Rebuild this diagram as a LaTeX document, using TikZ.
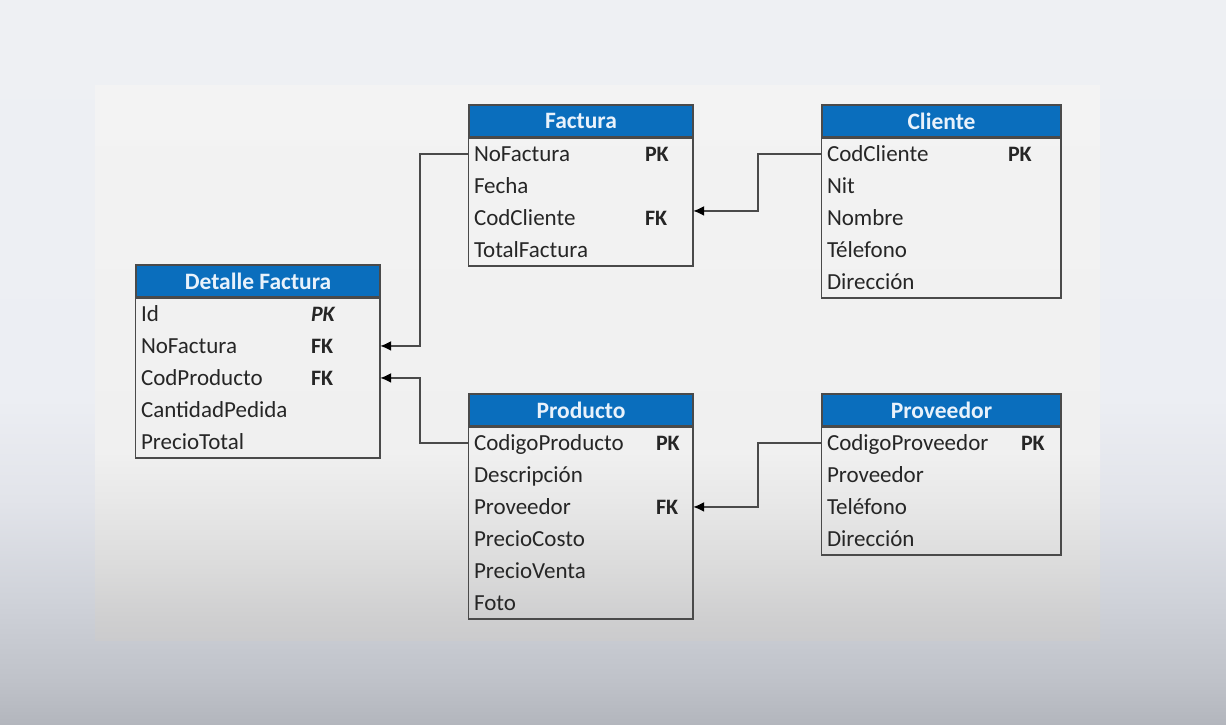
\documentclass[tikz,border=0pt]{standalone}
\usepackage{fontspec}
\setmainfont{Carlito}
\usetikzlibrary{arrows.meta,positioning}

\definecolor{hdrblue}{HTML}{0A6EBD}
\definecolor{hdrtext}{HTML}{E9F2FB}
\definecolor{rowtext}{HTML}{262626}
\definecolor{edgegray}{HTML}{4A4A4A}
% tikz maps a path onto the 25bp--75bp band of a shading
\pgfdeclareverticalshading{slidebg}{100bp}{color(0bp)=(rgb,255:red,179;green,182;blue,189);
  color(25bp)=(rgb,255:red,179;green,182;blue,189); color(28bp)=(rgb,255:red,191;green,194;blue,201);
  color(33.5bp)=(rgb,255:red,207;green,210;blue,217); color(40.5bp)=(rgb,255:red,226;green,228;blue,234);
  color(47.5bp)=(rgb,255:red,236;green,238;blue,243); color(75bp)=(rgb,255:red,238;green,240;blue,243);
  color(100bp)=(rgb,255:red,238;green,240;blue,243)}
\pgfdeclareverticalshading{panelbg}{100bp}{color(0bp)=(rgb,255:red,203;green,203;blue,205);
  color(25bp)=(rgb,255:red,203;green,203;blue,205); color(27bp)=(rgb,255:red,207;green,207;blue,208);
  color(32bp)=(rgb,255:red,220;green,220;blue,220); color(37.5bp)=(rgb,255:red,232;green,232;blue,232);
  color(42bp)=(rgb,255:red,240;green,240;blue,240); color(75bp)=(rgb,255:red,243;green,243;blue,243);
  color(100bp)=(rgb,255:red,243;green,243;blue,243)}

\begin{document}
\begin{tikzpicture}[x=1pt,y=-1pt,>={Latex[length=11pt,width=10pt,color=black]},
  font=\fontsize{23}{27}\selectfont]
  \tikzstyle{tabhead}=[draw=edgegray,line width=1.5pt,fill=hdrblue,text=hdrtext,
    font=\fontsize{23.5}{27}\selectfont\bfseries,minimum height=32pt,inner sep=0pt]
  \tikzstyle{key}=[font=\fontsize{22}{26}\selectfont\bfseries,text=rowtext,
    inner sep=0pt,text height=20pt,text depth=4pt,anchor=west]
  \tikzstyle{frame}=[draw=edgegray,line width=1.5pt]
  \tikzstyle{fk}=[->,draw=edgegray,line width=1.5pt]
  \tikzset{field/.style={text width=#1,align=left,text=rowtext,inner xsep=5pt,
    inner ysep=0pt,text height=20pt,text depth=4pt,minimum height=32pt,anchor=north}}

  \useasboundingbox (0,0) rectangle (1226,724);
  \shade[shading=slidebg] (0,0) rectangle (1226,724);
  \shade[shading=panelbg] (95,85) rectangle (1100,640);

  % tables
  \node[tabhead,minimum width=224pt] (fac) at (581,121)   {Factura};
  \node[tabhead,minimum width=239pt] (cli) at (941.5,121) {Cliente};
  \node[tabhead,minimum width=244pt] (det) at (258,281)   {Detalle Factura};
  \node[tabhead,minimum width=224pt] (pro) at (581,410)   {Producto};
  \node[tabhead,minimum width=239pt] (prv) at (941.5,410) {Proveedor};

  \foreach \t [count=\i] in {NoFactura,Fecha,CodCliente,TotalFactura}
    \node[field=214pt] (fac\i) at ([yshift={-32*(\i-1)}]fac.south) {\t};
  \foreach \t [count=\i] in {CodCliente,Nit,Nombre,Télefono,Dirección}
    \node[field=229pt] (cli\i) at ([yshift={-32*(\i-1)}]cli.south) {\t};
  \foreach \t [count=\i] in {Id,NoFactura,CodProducto,CantidadPedida,PrecioTotal}
    \node[field=234pt] (det\i) at ([yshift={-32*(\i-1)}]det.south) {\t};
  \foreach \t [count=\i] in {CodigoProducto,Descripción,Proveedor,PrecioCosto,PrecioVenta,Foto}
    \node[field=214pt] (pro\i) at ([yshift={-32*(\i-1)}]pro.south) {\t};
  \foreach \t [count=\i] in {CodigoProveedor,Proveedor,Teléfono,Dirección}
    \node[field=229pt] (prv\i) at ([yshift={-32*(\i-1)}]prv.south) {\t};

  \draw[frame] (fac.south west) rectangle (fac4.south east);
  \draw[frame] (cli.south west) rectangle (cli5.south east);
  \draw[frame] (det.south west) rectangle (det5.south east);
  \draw[frame] (pro.south west) rectangle (pro6.south east);
  \draw[frame] (prv.south west) rectangle (prv4.south east);

  % keys
  \node[key,right=176pt of fac1.west] (fac1k) {PK};
  \node[key,right=176pt of fac3.west] (fac3k) {FK};
  \node[key,right=186pt of cli1.west] (cli1k) {PK};
  \node[key,right=175pt of det1.west] (det1k) {\itshape PK};
  \node[key,right=175pt of det2.west] (det2k) {FK};
  \node[key,right=175pt of det3.west] (det3k) {FK};
  \node[key,right=187pt of pro1.west] (pro1k) {PK};
  \node[key,right=187pt of pro3.west] (pro3k) {FK};
  \node[key,right=199pt of prv1.west] (prv1k) {PK};

  % relations
  \draw[fk] (fac1.west) -- ++(-49,0) |- (det2.east);
  \draw[fk] (pro1.west) -- ++(-49,0) |- (det3.east);
  \draw[fk] (cli1.west) -- ++(-64,0) |- ([yshift=7pt]fac3.east);
  \draw[fk] (prv1.west) -- ++(-64,0) |- (pro3.east);
\end{tikzpicture}
\end{document}
